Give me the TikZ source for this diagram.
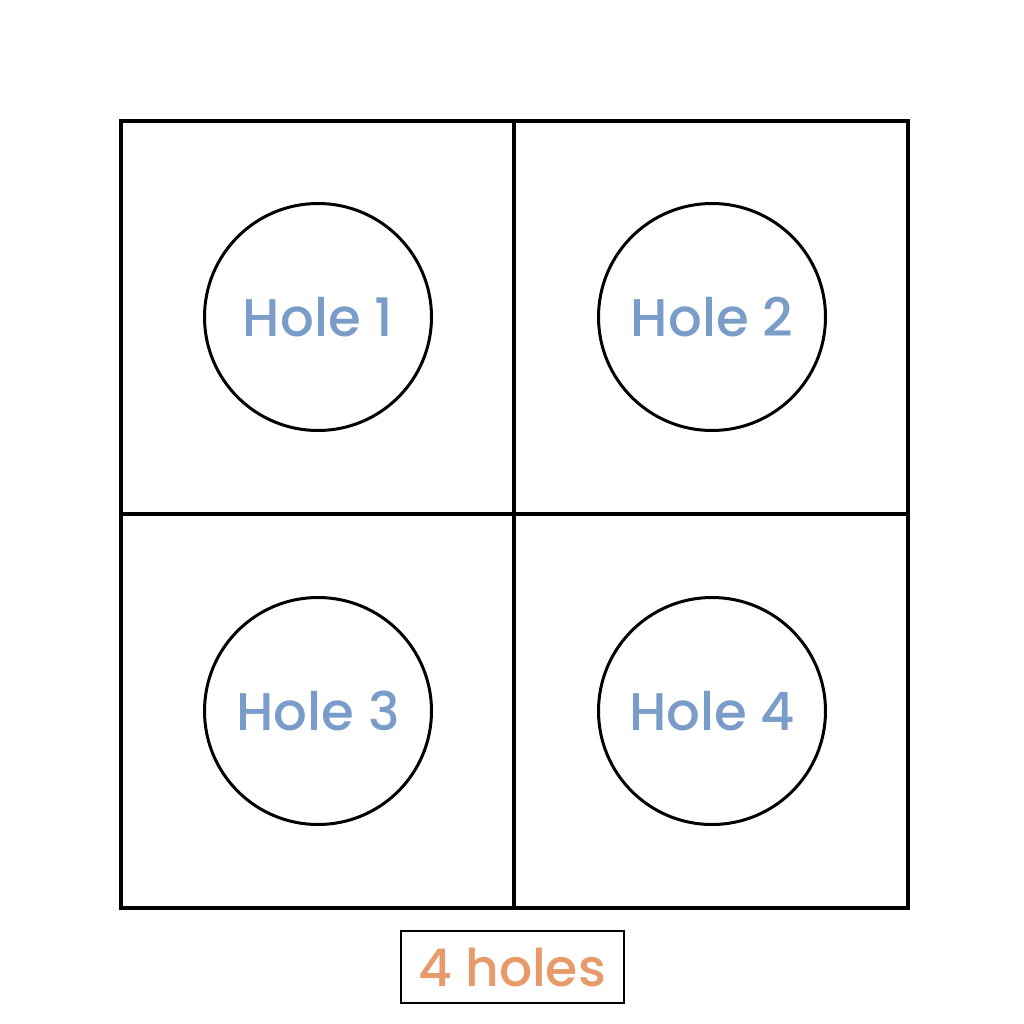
\documentclass[tikz,border=0pt]{standalone}
\usepackage{fontspec}
\setmainfont{Poppins}[UprightFont=* Medium]
\usepackage{xcolor}
\definecolor{holeblue}{HTML}{7A9CC8}
\definecolor{labelorange}{HTML}{E89A6A}

\begin{document}
\begin{tikzpicture}[x=1pt,y=-1pt,
    hole/.style={circle, draw, line width=3pt, minimum size=227pt, inner sep=0pt,
      text=holeblue, font=\fontsize{53}{60}\selectfont},
    tag/.style={draw, line width=2pt, minimum width=223pt, minimum height=72pt,
      text=labelorange, font=\fontsize{52}{60}\selectfont}]
    \useasboundingbox (0,0) rectangle (1024,1024);

    \draw [line width=3.5pt] (121,121) rectangle (908,908);
    \draw [line width=3.5pt] (514,121) -- (514,908);
    \draw [line width=3.5pt] (121,514) -- (908,514);

    \node [hole] (h1) at (318, 317) {Hole 1};
    \node [hole] (h2) at (712, 317) {Hole 2};
    \node [hole] (h3) at (318, 711) {Hole 3};
    \node [hole] (h4) at (712, 711) {Hole 4};

    \node [tag] (n) at (512, 967) {4 holes};

\end{tikzpicture}
\end{document}
